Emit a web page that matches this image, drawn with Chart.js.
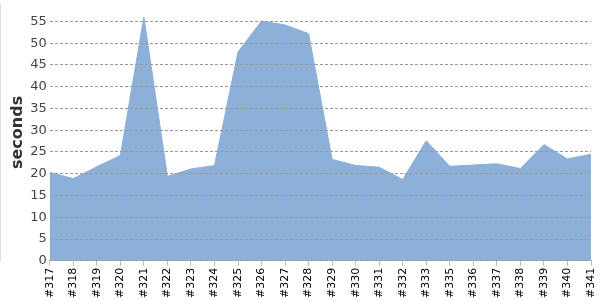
<!DOCTYPE html>
<html>
<head>
<meta charset="utf-8">
<script src="https://cdn.jsdelivr.net/npm/chart.js@4"></script>
<style>
  body { margin: 0; background: #fff; }
  #wrap { width: 600px; height: 300px; }
</style>
</head>
<body>
<div id="wrap"><canvas id="chart"></canvas></div>
<script>
const builds = ["#317", "#318", "#319", "#320", "#321", "#322", "#323", "#324", "#325", "#326",
  "#327", "#328", "#329", "#330", "#331", "#332", "#333", "#335", "#336", "#337",
  "#338", "#339", "#340", "#341"];
const durations = [20.3, 18.9, 21.6, 24.2, 56.0, 19.4, 21.1, 21.9, 48.0, 55.1,
  54.2, 52.2, 23.3, 21.9, 21.5, 18.7, 27.6, 21.7, 22.0, 22.3,
  21.2, 26.7, 23.4, 24.5];

const ctx = document.getElementById("chart");
const chart = new Chart(ctx, {
  type: "line",
  data: {
    labels: builds,
    datasets: [
      {
        label: "duration",
        data: durations,
        fill: "origin",
        backgroundColor: "rgb(141, 176, 217)",
        borderColor: "rgb(141, 176, 217)",
        borderWidth: 1,
        pointRadius: 0,
        tension: 0,
      },
    ],
  },
  options: {
    animation: false,
    responsive: true,
    maintainAspectRatio: false,
    layout: { padding: { top: 4, right: 9, left: 8, bottom: 0 } },
    plugins: {
      legend: { display: false },
      tooltip: { enabled: false },
    },
    scales: {
      x: {
        offset: false,
        afterFit: (axis) => {
          axis.paddingRight = 0;
          axis.paddingLeft = 0;
        },
        grid: { drawOnChartArea: false, color: "#bbb", tickLength: 5 },
        border: { color: "#bbb" },
        ticks: {
          minRotation: 90,
          maxRotation: 90,
          autoSkip: false,
          color: "#000",
          padding: 2,
          font: { family: "DejaVu Sans", size: 11 },
        },
      },
      y: {
        min: 0,
        max: 59,
        afterBuildTicks: (axis) => {
          axis.ticks = axis.ticks.filter((t) => t.value % 5 === 0);
        },
        afterFit: (axis) => {
          axis.paddingTop = 0;
        },
        border: { color: "#bbb", dash: [3, 2] },
        grid: {
          z: 1,
          color: "#999",
          drawTicks: false,
          lineWidth: 1,
        },
        ticks: {
          stepSize: 5,
          color: "#444",
          padding: 3,
          font: { family: "DejaVu Sans", size: 13 },
        },
        title: {
          display: true,
          text: "seconds",
          color: "#333",
          padding: 0,
          font: { family: "DejaVu Sans", size: 16, weight: "bold" },
        },
      },
    },
  },
});
</script>
</body>
</html>
